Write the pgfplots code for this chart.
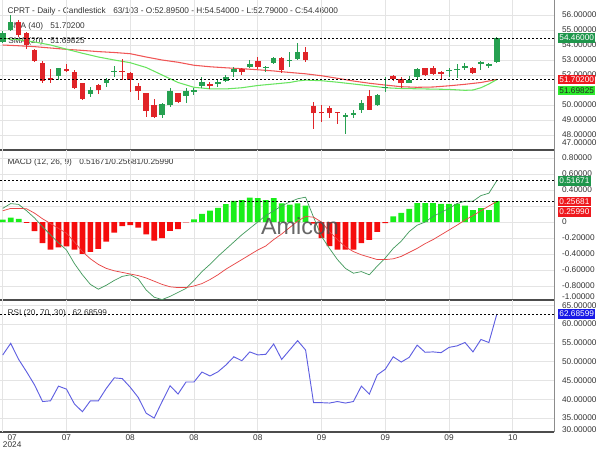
\documentclass[border=0pt]{standalone}
\usepackage{pgfplots}
\usepackage{pgfplotstable}
\pgfplotsset{compat=1.18}
\usepackage{fontspec}
\setmainfont{Liberation Sans}

\definecolor{cgreen}{RGB}{38,160,80}
\definecolor{cred}{RGB}{224,36,40}
\definecolor{hgreen}{RGB}{25,238,25}
\definecolor{hred}{RGB}{245,12,12}
\definecolor{smared}{RGB}{240,85,85}
\definecolor{smagreen}{RGB}{105,228,95}
\definecolor{macdgreen}{RGB}{70,155,95}
\definecolor{sigred}{RGB}{232,70,70}
\definecolor{rsiblue}{RGB}{95,95,225}
\definecolor{gridgray}{RGB}{228,228,228}
\definecolor{boxgreen}{RGB}{30,150,75}
\definecolor{boxred}{RGB}{238,25,30}
\definecolor{boxlime}{RGB}{45,235,45}
\definecolor{boxblue}{RGB}{25,25,230}

\newcommand\tf{\fontsize{6.2}{7}\selectfont}

% candles: index, open, high, low, close
\pgfplotstableread{
i o h l c
0 54.22 54.96 54.11 54.78
1 55.00 56.00 54.95 55.55
7 51.96 52.50 51.67 52.44
11 50.73 51.18 50.56 51.00
13 51.49 51.78 51.22 51.67
14 52.25 52.60 51.84 52.28
20 49.33 50.11 49.11 50.04
21 50.00 51.11 49.84 50.96
23 50.62 51.11 50.11 50.96
24 50.84 51.11 50.67 51.00
25 51.27 51.89 51.11 51.56
27 51.38 51.67 51.18 51.56
28 51.62 52.00 51.56 51.89
29 52.22 52.56 51.89 52.40
31 52.56 53.00 52.49 52.71
33 52.49 52.60 52.22 52.56
34 52.78 53.22 52.73 53.16
36 52.93 53.51 52.56 53.00
37 53.04 54.11 53.00 53.51
43 49.22 49.44 48.04 49.33
44 49.33 49.67 49.11 49.44
45 49.67 50.33 49.49 50.16
47 50.00 50.73 49.93 50.67
48 51.18 51.84 50.89 51.21
51 51.44 51.93 51.44 51.67
52 51.84 52.44 51.67 52.40
56 52.29 52.44 51.84 52.33
57 52.33 52.73 51.82 52.40
58 52.44 52.82 52.33 52.60
60 52.73 52.93 52.33 52.89
61 52.60 52.82 52.49 52.73
62 52.895 54.54 52.79 54.46
}\upcandles
\pgfplotstableread{
i o h l c
2 55.55 55.65 54.56 54.67
3 54.78 54.85 53.71 54.00
4 53.67 53.72 52.91 52.96
5 52.78 52.93 51.49 51.60
6 51.80 52.38 51.49 51.64
8 52.40 52.71 52.22 52.27
9 52.22 52.33 51.04 51.11
10 51.44 51.50 50.40 50.42
12 51.33 51.40 50.71 51.00
15 52.27 53.10 51.67 52.25
16 52.16 52.22 50.89 51.67
17 51.29 51.44 50.33 50.93
18 50.78 50.82 49.22 49.62
19 50.00 50.40 49.11 49.18
22 50.78 50.82 50.11 50.22
26 51.40 51.51 51.04 51.27
30 52.40 52.44 52.00 52.20
32 52.93 53.22 52.40 52.51
35 53.16 53.22 52.16 52.33
38 53.51 53.89 52.89 53.00
39 49.93 50.22 48.38 49.44
40 49.56 50.00 48.89 49.44
41 49.78 49.93 49.11 49.44
42 49.51 49.53 48.73 49.49
46 50.60 51.00 49.67 49.67
49 51.93 52.00 51.62 51.73
50 51.73 51.89 51.11 51.44
53 52.44 52.49 51.93 52.00
54 52.49 52.60 52.02 52.07
55 52.22 52.29 51.71 52.07
59 52.44 52.56 52.07 52.16
}\downcandles

\pgfplotstableread{
i v
0 54.00
2 53.95
4 53.89
6 53.80
8 53.71
10 53.64
12 53.56
14 53.50
16 53.42
18 53.20
20 53.00
22 52.85
24 52.65
26 52.55
28 52.48
30 52.42
32 52.35
34 52.27
36 52.17
38 52.08
40 51.95
42 51.78
44 51.60
46 51.45
48 51.33
50 51.22
52 51.18
54 51.20
56 51.28
58 51.38
60 51.50
62 51.702
}\smaforty
\pgfplotstableread{
i v
0 54.45
2 54.35
4 54.20
6 54.00
8 53.72
10 53.45
12 53.20
14 53.00
16 52.82
18 52.50
20 52.00
22 51.50
24 51.18
26 51.08
28 51.07
30 51.15
32 51.30
34 51.40
36 51.50
37 51.60
38 51.66
40 51.62
42 51.52
44 51.40
46 51.28
48 51.15
50 51.10
52 51.08
54 51.06
56 51.04
58 50.98
59 51.00
60 51.15
61 51.40
62 51.698
}\smatwenty

\pgfplotstableread{
i v
0 0.030
1 0.054
2 0.040
24 0.033
25 0.102
26 0.143
27 0.176
28 0.224
29 0.265
30 0.273
31 0.305
32 0.297
33 0.273
34 0.297
35 0.232
36 0.216
37 0.232
38 0.204
49 0.070
50 0.114
51 0.163
52 0.237
53 0.237
54 0.237
55 0.228
56 0.228
57 0.228
58 0.204
59 0.150
60 0.175
61 0.150
62 0.2599
}\histup
\pgfplotstableread{
i v
3 -0.010
4 -0.114
5 -0.264
6 -0.345
7 -0.317
8 -0.305
9 -0.345
10 -0.398
11 -0.374
12 -0.337
13 -0.244
14 -0.134
15 -0.053
16 -0.040
17 -0.069
18 -0.154
19 -0.232
20 -0.203
21 -0.110
22 -0.089
23 -0.005
39 -0.020
40 -0.200
41 -0.300
42 -0.345
43 -0.345
44 -0.345
45 -0.264
46 -0.224
47 -0.122
48 -0.015
}\histdown

\pgfplotstableread{
i m s
0 0.17 0.14
1 0.23 0.17
2 0.22 0.17
3 0.14 0.165
4 0.05 0.11
5 -0.06 0.04
6 -0.16 -0.02
7 -0.26 -0.08
8 -0.35 -0.14
9 -0.52 -0.25
10 -0.66 -0.37
11 -0.78 -0.46
12 -0.84 -0.53
13 -0.79 -0.58
14 -0.73 -0.61
15 -0.68 -0.63
16 -0.66 -0.65
17 -0.71 -0.67
18 -0.85 -0.70
19 -0.94 -0.74
20 -0.97 -0.78
21 -0.93 -0.81
22 -0.88 -0.82
23 -0.83 -0.82
24 -0.73 -0.80
25 -0.62 -0.77
26 -0.53 -0.72
27 -0.43 -0.66
28 -0.34 -0.59
29 -0.25 -0.53
30 -0.16 -0.47
31 -0.08 -0.41
32 0.00 -0.35
33 0.08 -0.30
34 0.14 -0.22
35 0.20 -0.15
36 0.25 -0.07
37 0.29 0.01
38 0.31 0.07
39 0.06 0.06
40 -0.18 0.00
41 -0.33 -0.12
42 -0.47 -0.22
43 -0.58 -0.31
44 -0.64 -0.37
45 -0.62 -0.41
46 -0.66 -0.44
47 -0.55 -0.47
48 -0.45 -0.47
49 -0.33 -0.46
50 -0.24 -0.43
51 -0.12 -0.38
52 -0.04 -0.33
53 0.00 -0.27
54 0.07 -0.22
55 0.12 -0.16
56 0.17 -0.10
57 0.23 -0.04
58 0.26 0.025
59 0.26 0.08
60 0.33 0.14
61 0.36 0.20
62 0.51671 0.25681
}\macd

\pgfplotstableread{
i v
0 51.77
1 54.87
2 50.60
3 47.30
4 43.80
5 39.40
6 39.60
7 43.50
8 42.70
9 38.75
10 36.70
11 39.60
12 39.60
13 42.90
14 45.70
15 45.50
16 43.20
17 40.50
18 36.30
19 35.00
20 39.40
21 43.60
22 41.40
23 44.60
24 44.60
25 47.25
26 46.20
27 47.30
28 49.10
29 51.30
30 50.25
31 52.60
32 51.80
33 51.95
34 54.70
35 50.60
36 53.10
37 55.60
38 53.10
39 39.10
40 39.10
41 39.00
42 39.40
43 39.00
44 39.40
45 43.50
46 41.40
47 46.50
48 48.00
49 51.30
50 49.90
51 51.15
52 54.40
53 52.50
54 52.60
55 52.40
56 53.80
57 54.20
58 55.10
59 52.60
60 55.90
61 55.10
62 62.68599
}\rsi

\pgfplotsset{
  panel/.style={
    scale only axis, width=415.5pt, anchor=north west,
    xmin=-0.34, xmax=69.17,
    axis x line*=bottom, axis y line*=right,
    x axis line style={draw=black!70, line width=0.9pt},
    y axis line style={draw=black!45, line width=0.75pt},
    major tick length=0pt,
    xtick={8,16,...,64},
    extra x ticks={0},
    extra x tick style={grid=major},
    extra y tick style={grid=none},
    grid=major, grid style={gridgray, line width=0.5pt},
    tick label style={font=\tf, text=black!80},
    yticklabel style={anchor=west, inner sep=0pt, xshift=5.8pt},
  },
  refline/.style={black, line width=0.5pt, dash pattern=on 1.5pt off 1.5pt},
  wick/.style={only marks, mark=*, mark size=0pt,
    mark options={draw=none, fill=none}, forget plot,
    error bars/.cd, y dir=both, y explicit, error mark=none,
    error bar style={line width=0.75pt, #1}},
  body/.style={only marks, mark=*, mark size=0pt,
    mark options={draw=none, fill=none}, forget plot,
    error bars/.cd, y dir=both, y explicit, error mark=none,
    error bar style={line width=4.2pt, #1}},
}
\tikzset{
  valbox/.style={anchor=west, inner xsep=0.9pt, inner ysep=0pt,
    minimum height=7.3pt, font=\tf, text=white, fill=#1},
}

\begin{document}
\begin{tikzpicture}
\path[use as bounding box] (0pt,0pt) rectangle (450pt,-337.5pt);

% panel texts (behind the data)
\begin{scope}[x=0.75pt, y=-0.75pt, every node/.style={font=\tf, text=black!80, inner sep=0pt, anchor=base west}]
  \node at (7.3,13.3) {CPRT - Daily - Candlestick};
  \node at (113,13.3) {63/103 - O:52.89500 - H:54.54000 - L:52.79000 - C:54.46000};
  \node at (8,28.3) {SMA (40)};
  \node at (50,28.3) {51.70200};
  \node at (8,43.3) {SMA (20)};
  \node at (50,43.3) {51.69825};
  \node at (7.3,164) {MACD (12, 26, 9)};
  \node at (79,164) {0.51671/0.25681/0.25990};
  \node at (7.3,315.3) {RSI (20, 70, 30)};
  \node at (72.3,315.3) {62.68599};
\end{scope}

% ---------- price ----------
\begin{axis}[panel, at={(0pt,0pt)}, height=112.5pt,
    ymin=47, ymax=57,
    xticklabels={}, extra x tick labels={},
    ytick={48,49,50,52,53,54,55,56},
    yticklabels={48.00000,49.00000,50.00000,52.00000,53.00000,54.00000,55.00000,56.00000},
    extra y ticks={47.49}, extra y tick labels={47.00000}]
  \addplot[gridgray, line width=0.5pt, forget plot] coordinates {(-0.34,51) (69.17,51)};
  \addplot[smared, line width=0.8pt] table[x=i, y=v] {\smaforty};
  \addplot[smagreen, line width=0.8pt] table[x=i, y=v] {\smatwenty};
  \addplot[wick=cgreen] table[x=i, y=c,
      y error plus expr=\thisrow{h}-\thisrow{c},
      y error minus expr=\thisrow{c}-\thisrow{l}] {\upcandles};
  \addplot[body=cgreen] table[x=i, y=c,
      y error plus expr=0,
      y error minus expr={max(\thisrow{c}-\thisrow{o},0.05)}] {\upcandles};
  \addplot[wick=cred] table[x=i, y=c,
      y error plus expr=\thisrow{h}-\thisrow{c},
      y error minus expr=\thisrow{c}-\thisrow{l}] {\downcandles};
  \addplot[body=cred] table[x=i, y=c,
      y error plus expr={max(\thisrow{o}-\thisrow{c},0.05)},
      y error minus expr=0] {\downcandles};
  \addplot[refline] coordinates {(-0.34,54.46) (69.17,54.46)};
  \addplot[refline] coordinates {(-0.34,51.702) (69.17,51.702)};
  \coordinate (pc) at (axis cs:69.17,54.46);
  \coordinate (ps) at (axis cs:69.17,51.702);
\end{axis}
\node[valbox=boxgreen] at ([xshift=3pt]pc) {54.46000};
\node[valbox=boxred] (b1) at ([xshift=3pt]ps) {51.70200};
\node[valbox=boxlime, text=black!85, anchor=north west] at ([yshift=-0.6pt]b1.south west) {51.69825};

% ---------- MACD ----------
\begin{axis}[panel, at={(0pt,-112.5pt)}, height=112.5pt,
    ymin=-0.975, ymax=0.9,
    xticklabels={}, extra x tick labels={},
    ytick={-0.8,-0.6,-0.4,-0.2,0,0.4,0.6,0.8},
    yticklabels={-0.80000,-0.60000,-0.40000,-0.20000,0,0.40000,0.60000,0.80000},
    extra y ticks={-0.934}, extra y tick labels={-1.00000}]
  \addplot[gridgray, line width=0.5pt, forget plot] coordinates {(-0.34,0.2) (69.17,0.2)};
  \addplot[ybar, bar width=4.3pt, bar shift=0pt, fill=hgreen, draw=none] table[x=i, y=v] {\histup};
  \addplot[ybar, bar width=4.3pt, bar shift=0pt, fill=hred, draw=none] table[x=i, y=v] {\histdown};
  \addplot[macdgreen, line width=0.55pt] table[x=i, y=m] {\macd};
  \addplot[sigred, line width=0.55pt] table[x=i, y=s] {\macd};
  \addplot[refline] coordinates {(-0.34,0.51671) (69.17,0.51671)};
  \addplot[refline] coordinates {(-0.34,0.25681) (69.17,0.25681)};
  \coordinate (mm) at (axis cs:69.17,0.51671);
  \coordinate (ms) at (axis cs:69.17,0.25681);
\end{axis}
\node[valbox=boxgreen] at ([xshift=3pt]mm) {0.51671};
\node[valbox=boxred] (b2) at ([xshift=3pt]ms) {0.25681};
\node[valbox=boxred, anchor=north west] at (b2.south west) {0.25990};
\node[anchor=base, inner sep=0pt, font=\fontsize{17.5}{17.5}\selectfont, text=black!70, opacity=0.85]
  at (225pt,-176.2pt) {Amicon};

% ---------- RSI ----------
\begin{axis}[panel, at={(0pt,-225pt)}, height=99pt,
    ymin=31.3, ymax=66.4,
    xticklabels={07,08,08,08,09,09,09,10},
    xticklabel style={anchor=north, inner sep=0pt, yshift=-1.8pt},
    extra x tick labels={{07\\2024}},
    extra x tick style={grid=major, xticklabel style={anchor=north west, align=center,
      font=\fontsize{6.2}{5.6}\selectfont}},
    ytick={35,40,...,65},
    yticklabels={35.00000,40.00000,45.00000,50.00000,55.00000,60.00000,65.00000},
    extra y ticks={32.0}, extra y tick labels={30.00000}]
  \addplot[rsiblue, line width=0.7pt] table[x=i, y=v] {\rsi};
  \addplot[refline] coordinates {(-0.34,62.68599) (69.17,62.68599)};
  \coordinate (rr) at (axis cs:69.17,62.68599);
\end{axis}
\node[valbox=boxblue] at ([xshift=3pt]rr) {62.68599};
\end{tikzpicture}
\end{document}
